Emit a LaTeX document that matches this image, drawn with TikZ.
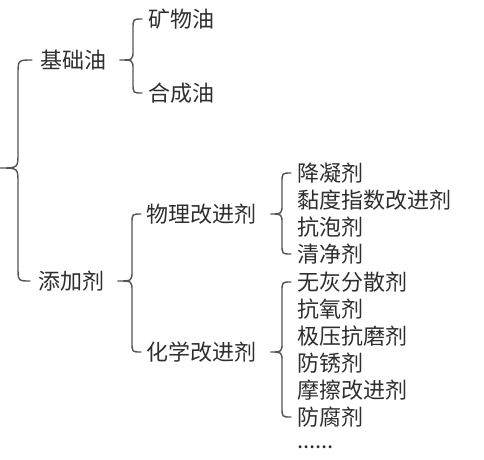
\documentclass[tikz,border=0pt]{standalone}
\usepackage{fontspec}
\setmainfont{Noto Sans CJK SC}
\usetikzlibrary{calc}
\definecolor{txt}{HTML}{2E2E2E}
\definecolor{ln}{HTML}{555555}
\newcommand\mybrace[6]{% #1 tip, #2 top child, #3 bottom child, #4 gap vertical, #5 end gap, #6 radius
  \draw[brc] let \p1=(#1), \p2=(#2.west), \p3=(#3.west), \n1={\x2-#4} in
    (\x2-#5,\y2) .. controls (\n1,\y2) .. (\n1,\y2-#6) -- (\n1,\y1+#6)
    .. controls (\n1,\y1) .. (\x1,\y1) .. controls (\n1,\y1) .. (\n1,\y1-#6)
    -- (\n1,\y3+#6) .. controls (\n1,\y3) .. (\x3-#5,\y3);}
\begin{document}
\begin{tikzpicture}[x=1pt,y=-1pt,
  lbl/.style={inner sep=0pt, anchor=west, text=txt, font=\fontsize{22}{22}\selectfont},
  brc/.style={draw=ln, line width=1.4pt, line cap=round}]
\useasboundingbox (0,0) rectangle (484,459);
\node[lbl] (jc) at (40,60) {基础油};
\node[lbl] (kw) at (148,19) {矿物油};
\node[lbl] (hc) at (148,93) {合成油};
\node[lbl] (tj) at (38,281) {添加剂};
\node[lbl] (wl) at (146,214) {物理改进剂};
\node[lbl] (hx) at (146,352) {化学改进剂};
\node[lbl] (a1) at (297,173) {降凝剂};
\node[lbl] (a2) at (297,200) {黏度指数改进剂};
\node[lbl] (a3) at (297,227) {抗泡剂};
\node[lbl] (a4) at (297,254) {清净剂};
\node[lbl] (b1) at (297,282) {无灰分散剂};
\node[lbl] (b2) at (297,309) {抗氧剂};
\node[lbl] (b3) at (297,336) {极压抗磨剂};
\node[lbl] (b4) at (297,363) {防锈剂};
\node[lbl] (b5) at (297,390) {摩擦改进剂};
\node[lbl] (b6) at (297,417) {防腐剂};
\node[lbl] (b7) at (297,447) {......};
\coordinate (root) at (0,168);
\mybrace{root}{jc}{tj}{22pt}{8pt}{15pt}
\mybrace{[xshift=13pt]jc.east}{kw}{hc}{15pt}{6pt}{10pt}
\mybrace{[xshift=13pt]tj.east}{wl}{hx}{14pt}{5pt}{10pt}
\mybrace{[xshift=14pt]wl.east}{a1}{a4}{15pt}{6pt}{10pt}
\mybrace{[xshift=14pt]hx.east}{b1}{b6}{15pt}{6pt}{10pt}
\end{tikzpicture}
\end{document}
